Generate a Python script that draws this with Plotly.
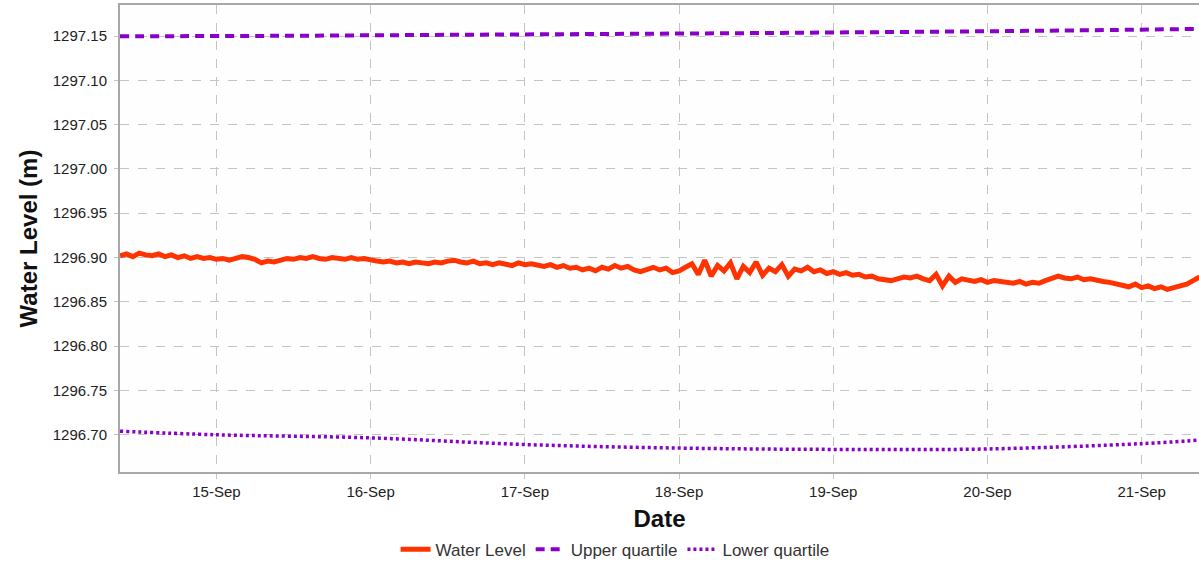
import pandas as pd
import plotly.graph_objects as go

# Hourly water level readings, 14-Sep 09:00 to 21-Sep 09:00
start = "2015-09-14 09:00"
water_level = [
    1296.902, 1296.904, 1296.901, 1296.905, 1296.903, 1296.902, 1296.904, 1296.901, 1296.903, 1296.900, 1296.902, 1296.899,
    1296.901, 1296.899, 1296.900, 1296.898, 1296.899, 1296.897, 1296.899, 1296.901, 1296.900, 1296.898, 1296.894, 1296.896,
    1296.895, 1296.897, 1296.899, 1296.898, 1296.900, 1296.899, 1296.901, 1296.899, 1296.898, 1296.900, 1296.899, 1296.898,
    1296.900, 1296.898, 1296.899, 1296.897, 1296.896, 1296.895, 1296.896, 1296.894, 1296.895, 1296.893, 1296.895, 1296.894,
    1296.893, 1296.895, 1296.894, 1296.896, 1296.897, 1296.895, 1296.894, 1296.896, 1296.893, 1296.894, 1296.892, 1296.894,
    1296.893, 1296.891, 1296.894, 1296.892, 1296.893, 1296.891, 1296.890, 1296.892, 1296.889, 1296.891, 1296.888, 1296.889,
    1296.886, 1296.888, 1296.885, 1296.889, 1296.887, 1296.891, 1296.888, 1296.890, 1296.886, 1296.884, 1296.887, 1296.889,
    1296.886, 1296.888, 1296.883, 1296.885, 1296.889, 1296.893, 1296.881, 1296.897, 1296.879, 1296.891, 1296.885, 1296.894,
    1296.876, 1296.890, 1296.883, 1296.895, 1296.880, 1296.888, 1296.884, 1296.892, 1296.879, 1296.887, 1296.885, 1296.889,
    1296.884, 1296.886, 1296.882, 1296.884, 1296.881, 1296.883, 1296.880, 1296.881, 1296.878, 1296.879, 1296.876, 1296.875,
    1296.874, 1296.876, 1296.878, 1296.877, 1296.879, 1296.876, 1296.874, 1296.881, 1296.868, 1296.879, 1296.872, 1296.876,
    1296.874, 1296.873, 1296.875, 1296.872, 1296.874, 1296.873, 1296.872, 1296.871, 1296.873, 1296.870, 1296.872, 1296.871,
    1296.874, 1296.877, 1296.879, 1296.877, 1296.876, 1296.878, 1296.875, 1296.876, 1296.874, 1296.873, 1296.872, 1296.870,
    1296.869, 1296.867, 1296.870, 1296.866, 1296.868, 1296.865, 1296.867, 1296.864, 1296.866, 1296.868, 1296.870, 1296.874,
    1296.878,
]
level_times = pd.date_range(start, periods=len(water_level), freq="h")

# Daily upper quartile
upper_times = pd.to_datetime([
    "2015-09-14 09:00", "2015-09-15 09:00", "2015-09-16 09:00", "2015-09-17 09:00",
    "2015-09-18 09:00", "2015-09-19 09:00", "2015-09-20 09:00", "2015-09-21 09:00",
])
upper_quartile = [1297.1497, 1297.1502, 1297.1512, 1297.1522, 1297.1532, 1297.1545, 1297.1560, 1297.1580]

# Lower quartile
lower_times = pd.to_datetime([
    "2015-09-14 09:00", "2015-09-15 00:00", "2015-09-16 00:00", "2015-09-17 00:00",
    "2015-09-18 00:00", "2015-09-19 00:00", "2015-09-20 00:00", "2015-09-21 00:00",
    "2015-09-21 09:00",
])
lower_quartile = [1296.704, 1296.700, 1296.6965, 1296.689, 1296.685, 1296.6835, 1296.684, 1296.690, 1296.694]

purple = "#8a00c8"

fig = go.Figure()
fig.add_trace(go.Scatter(
    x=level_times, y=water_level, name="Water Level", mode="lines",
    line=dict(color="#ff3300", width=5),
))
fig.add_trace(go.Scatter(
    x=upper_times, y=upper_quartile, name="Upper quartile", mode="lines",
    line=dict(color=purple, width=4, dash="9px,6px", shape="spline"),
))
fig.add_trace(go.Scatter(
    x=lower_times, y=lower_quartile, name="Lower quartile", mode="lines",
    line=dict(color=purple, width=3.5, dash="3px,3px", shape="spline"),
))

font_family = "Liberation Sans, Arial, sans-serif"

fig.update_layout(
    width=1199, height=562,
    margin=dict(l=120, r=0, t=5, b=90),
    paper_bgcolor="white",
    plot_bgcolor="#fefefe",
    font=dict(family=font_family, color="#222222", size=14),
    showlegend=True,
    legend=dict(
        orientation="h", xref="container", yref="container",
        x=0.513, y=0.022, xanchor="center", yanchor="middle",
        font=dict(size=17, color="#333333"),
        itemwidth=30, bgcolor="rgba(0,0,0,0)",
    ),
)

fig.update_xaxes(
    range=["2015-09-14 09:00", "2015-09-21 08:55"],
    dtick=86400000, tick0="2015-09-15", tickformat="%d-%b",
    showgrid=True, gridcolor="#c4c4c4", gridwidth=1, griddash="dash",
    showline=True, linecolor="#a8a8a8", linewidth=2, mirror=True,
    ticks="outside", ticklen=5, tickcolor="#c4c4c4",
    tickfont=dict(size=15, color="#222222"),
    title=dict(text="Date", font=dict(size=24, color="#111111", weight="bold"), standoff=12),
    zeroline=False,
)
fig.update_yaxes(
    range=[1296.658, 1297.185],
    dtick=0.05, tick0=1296.70, tickformat=".2f",
    showgrid=True, gridcolor="#c4c4c4", gridwidth=1, griddash="dash",
    showline=True, linecolor="#a8a8a8", linewidth=2,
    ticks="outside", ticklen=4, tickcolor="#c4c4c4",
    ticklabelstandoff=4,
    tickfont=dict(size=15, color="#222222"),
    title=dict(text="Water Level (m)", font=dict(size=24, color="#111111", weight="bold"), standoff=8),
    zeroline=False,
)

fig.write_html("out.html")
